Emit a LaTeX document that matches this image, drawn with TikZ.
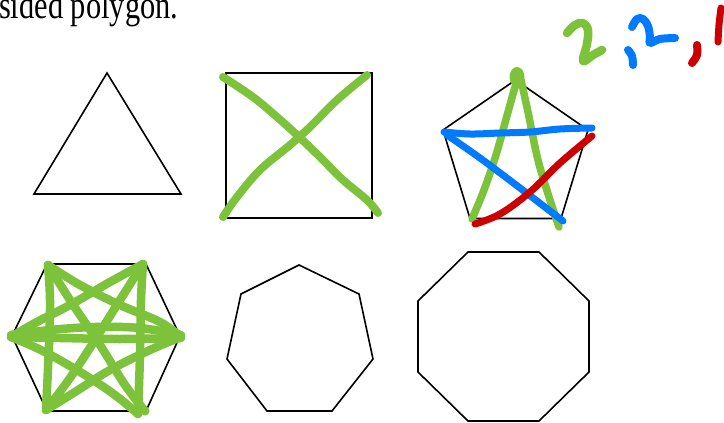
\documentclass[tikz,border=0pt]{standalone}
\usepackage{fontspec}
\setmainfont{Liberation Serif}
\definecolor{hgreen}{RGB}{124,194,58}
\definecolor{hblue}{RGB}{0,122,255}
\definecolor{hred}{RGB}{204,0,0}
\begin{document}
\begin{tikzpicture}[x=1pt,y=-1pt,
  poly/.style={draw=black,line width=1.6pt,line join=miter},
  ink/.style={line width=#1,line cap=round,line join=round},
  gink/.style={ink=#1,draw=hgreen},
  bink/.style={ink=#1,draw=hblue},
  rink/.style={ink=#1,draw=hred}]
\useasboundingbox (0,0) rectangle (724,423);
\fill[white] (0,0) rectangle (724,423);

% title text (cut at top, as in the reference)
\node[font=\fontsize{39}{39}\selectfont, xscale=0.78, anchor=base west, inner sep=0pt] (title) at (-1,18) {sided polygon.};

% handwritten 2,2,1
\draw[gink=8.5pt] plot[smooth,tension=0.6] coordinates {(567,33) (575,25) (583,23) (588,30) (587,44) (583,61) (593,55) (602,50)};
\draw[bink=8pt] plot[smooth,tension=0.6] coordinates {(628,50) (632,56) (633,65)};
\draw[bink=8pt] plot[smooth,tension=0.6] coordinates {(632,27) (637,19) (643,19) (648,26) (650,37) (650,43) (660,39) (675,38)};
\draw[rink=8pt] plot[smooth,tension=0.6] coordinates {(697,45) (697,55) (692,63)};
\draw[rink=7pt] plot[smooth,tension=0.6] coordinates {(721,8) (719,25) (718,42)};

% triangle
\draw[poly] (107,73) -- (181,194) -- (34,194) -- cycle;

% square with diagonals
\draw[poly] (226,73) rectangle (372,218);
\draw[gink=8pt] plot[smooth,tension=0.6] coordinates {(223,77) (253,97) (277,117) (297,135) (320,157) (343,180) (367,200) (378,213)};
\draw[gink=8pt] plot[smooth,tension=0.6] coordinates {(367,75) (337,100) (310,127) (290,145) (260,170) (237,197) (223,217)};

% pentagon
\draw[poly] (515.5,80) -- (588,130) -- (561,218.5) -- (470,218.5) -- (443,130) -- cycle;
\draw[gink=7.5pt] plot[smooth,tension=0.6] coordinates {(517,80) (508,112) (496,155) (484,190) (472,219)};
\draw[gink=7.5pt] plot[smooth,tension=0.6] coordinates {(521,80) (528,112) (538,160) (550,200) (559,227)};
\fill[hgreen] (517,77) ellipse [x radius=7.5pt, y radius=10pt];
\draw[bink=7pt] plot[smooth,tension=0.6] coordinates {(444,132) (470,134) (500,133) (530,132) (560,129) (592,128)};
\draw[bink=7pt] plot[smooth,tension=0.6] coordinates {(447,135) (480,158) (520,188) (563,221)};
\draw[rink=7pt] plot[smooth,tension=0.6] coordinates {(475,224) (500,214) (530,192) (560,163) (592,136)};

% hexagon
\draw[poly] (47,264) -- (146,264) -- (180,336) -- (146,411) -- (47,411) -- (12,336) -- cycle;
\begin{scope}[gink=8.5pt]
\draw plot[smooth,tension=0.6] coordinates {(48,265) (50,300) (49,345) (46,410)};
\draw plot[smooth,tension=0.6] coordinates {(143,264) (141,300) (140,355) (138,414)};
\draw plot[smooth,tension=0.6] coordinates {(48,265) (80,285) (120,305) (160,322) (181,337)};
\draw plot[smooth,tension=0.6] coordinates {(48,265) (70,300) (100,345) (125,385) (145,411)};
\draw plot[smooth,tension=0.6] coordinates {(143,264) (110,282) (70,305) (35,323) (11,337)};
\draw plot[smooth,tension=0.6] coordinates {(143,264) (120,300) (95,340) (70,378) (46,410)};
\draw plot[smooth,tension=0.6] coordinates {(181,337) (150,350) (110,370) (75,392) (46,410)};
\draw plot[smooth,tension=0.6] coordinates {(11,337) (45,352) (85,375) (115,395) (138,414)};
\draw plot[smooth,tension=0.6] coordinates {(11,337) (60,338) (120,339) (181,338)};
\draw plot[smooth,tension=0.6] coordinates {(11,335) (50,330) (95,327) (140,328) (181,335)};
\fill[hgreen] (145,411) circle (4.5pt);
\end{scope}

% heptagon
\draw[poly] (299,265) -- (359,294) -- (373,359) -- (332,411) -- (267,411) -- (227,359) -- (241,294) -- cycle;

% octagon
\draw[poly] (468,252) -- (539,252) -- (589,301) -- (589,372) -- (539,421) -- (468,421) -- (418,372) -- (418,301) -- cycle;
\end{tikzpicture}
\end{document}
